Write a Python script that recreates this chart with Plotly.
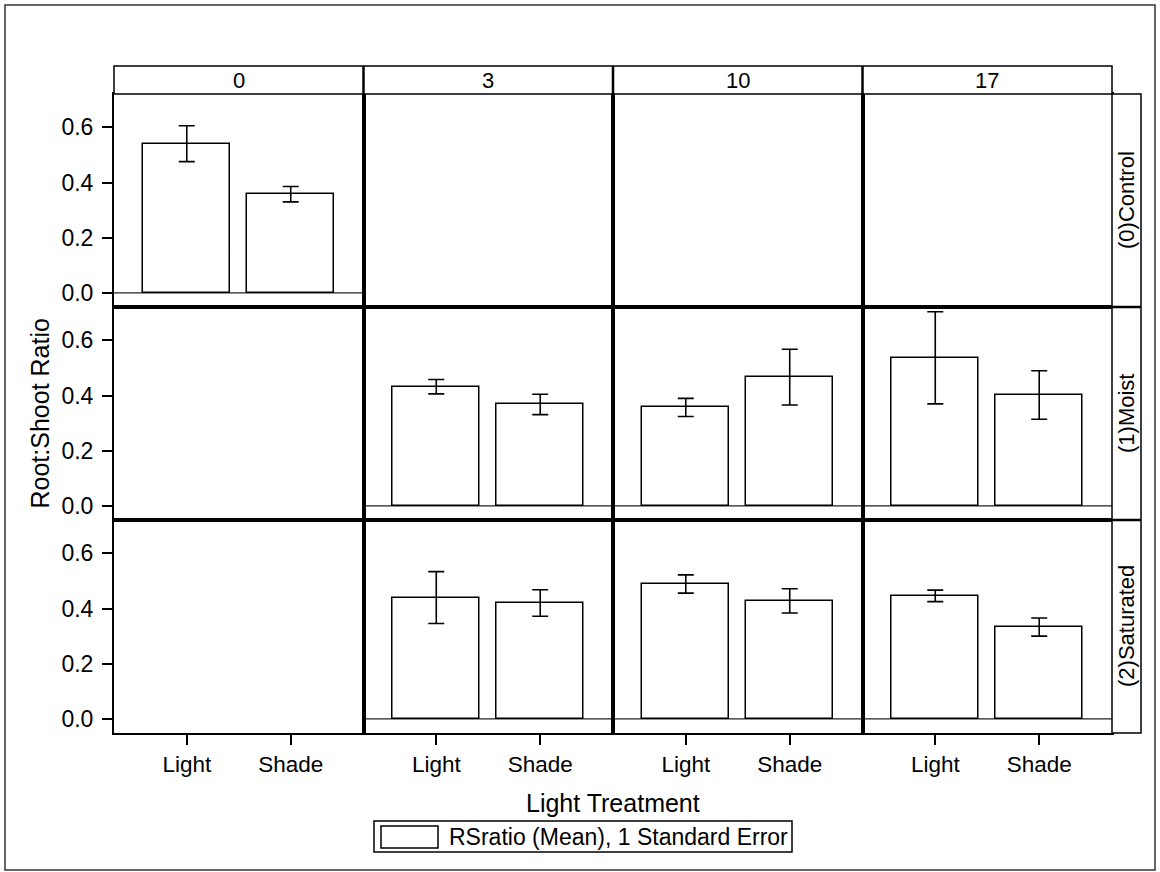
import plotly.graph_objects as go
from plotly.subplots import make_subplots

# Panel columns (days) and rows (moisture treatment)
days = ["0", "3", "10", "17"]
moisture = ["(0)Control", "(1)Moist", "(2)Saturated"]
light = ["Light", "Shade"]

# Mean root:shoot ratio per moisture row, per day column (None = no data)
light_mean = [
    [0.541, None, None, None],
    [None, 0.432, 0.357, 0.537],
    [None, 0.440, 0.489, 0.446],
]
shade_mean = [
    [0.358, None, None, None],
    [None, 0.368, 0.467, 0.402],
    [None, 0.420, 0.428, 0.333],
]
# One standard error
light_se = [
    [0.065, None, None, None],
    [None, 0.026, 0.033, 0.167],
    [None, 0.094, 0.033, 0.021],
]
shade_se = [
    [0.028, None, None, None],
    [None, 0.037, 0.101, 0.088],
    [None, 0.048, 0.044, 0.033],
]

y_ticks = [0.0, 0.2, 0.4, 0.6]

W, H = 1160, 872
ML, MR, MT, MB = 114, 48, 94, 139
PW, PH = W - ML - MR, H - MT - MB
FONT = "Liberation Sans, Arial, sans-serif"


def px_x(p):
    return (p - ML) / PW


def px_y(p):
    return (H - MB - p) / PH


nrows, ncols = len(moisture), len(days)
fig = make_subplots(rows=nrows, cols=ncols, horizontal_spacing=0, vertical_spacing=0)

shapes = []
for r in range(nrows):
    for c in range(ncols):
        idx = r * ncols + c + 1
        has_data = light_mean[r][c] is not None
        # every panel gets its bar trace so its axes are laid out, even when empty
        fig.add_trace(
            go.Bar(
                x=list(range(len(light))),
                y=[light_mean[r][c], shade_mean[r][c]],
                width=0.84,
                marker=dict(color="white", line=dict(color="black", width=1.5)),
                error_y=dict(
                    type="data",
                    array=[light_se[r][c] or 0, shade_se[r][c] or 0],
                    color="black",
                    thickness=1.6,
                    width=8,
                    visible=has_data,
                ),
                showlegend=False,
                hoverinfo="skip",
            ),
            row=r + 1,
            col=c + 1,
        )
        if has_data:
            sfx = "" if idx == 1 else str(idx)
            shapes.append(dict(
                type="line", xref=f"x{sfx} domain", yref=f"y{sfx}",
                x0=0, x1=1, y0=0, y1=0, layer="below",
                line=dict(color="#222", width=1.2),
            ))

for r in range(nrows):
    for c in range(ncols):
        bottom = r == nrows - 1
        left = c == 0
        fig.update_xaxes(
            range=[-0.7, 1.7], tickvals=list(range(len(light))), ticktext=light,
            showticklabels=bottom, ticks="outside" if bottom else "",
            ticklen=10, tickwidth=1.5, tickcolor="black",
            showgrid=False, zeroline=False,
            showline=True, mirror=True, linewidth=2, linecolor="black",
            tickfont=dict(family=FONT, size=22.5, color="black"),
            row=r + 1, col=c + 1,
        )
        fig.update_yaxes(
            range=[-0.051, 0.721], tickvals=y_ticks, tickformat=".1f",
            showticklabels=left, ticks="outside" if left else "",
            ticklen=10, tickwidth=1.5, tickcolor="black",
            showgrid=False, zeroline=False,
            showline=True, mirror=True, linewidth=2, linecolor="black",
            tickfont=dict(family=FONT, size=23, color="black"),
            ticklabelstandoff=4,
            row=r + 1, col=c + 1,
        )

# Column header strip
hdr_top = px_y(66)
shapes.append(dict(type="rect", xref="paper", yref="paper", x0=0, x1=1, y0=1, y1=hdr_top,
                   line=dict(color="black", width=1.5), fillcolor="white"))
for c in range(1, ncols):
    shapes.append(dict(type="line", xref="paper", yref="paper", x0=c / ncols, x1=c / ncols,
                       y0=1, y1=hdr_top, line=dict(color="black", width=2.5)))

# Row label strip
strip_r = px_x(1141)
shapes.append(dict(type="rect", xref="paper", yref="paper", x0=1, x1=strip_r, y0=0, y1=1,
                   line=dict(color="black", width=1.5), fillcolor="white"))
for r in range(1, nrows):
    shapes.append(dict(type="line", xref="paper", yref="paper", x0=1, x1=strip_r,
                       y0=r / nrows, y1=r / nrows, line=dict(color="black", width=2.5)))

# Outer frame
shapes.append(dict(type="rect", xref="paper", yref="paper",
                   x0=px_x(5), x1=px_x(1155), y0=px_y(5), y1=px_y(870),
                   line=dict(color="#333", width=1.5), layer="below"))

# Legend box with swatch
shapes.append(dict(type="rect", xref="paper", yref="paper",
                   x0=px_x(374), x1=px_x(792), y0=px_y(821), y1=px_y(852),
                   line=dict(color="black", width=1.5)))
shapes.append(dict(type="rect", xref="paper", yref="paper",
                   x0=px_x(381), x1=px_x(438), y0=px_y(826), y1=px_y(848),
                   line=dict(color="black", width=1.5), fillcolor="white"))

annotations = []
for c, d in enumerate(days):
    annotations.append(dict(text=d, xref="paper", yref="paper", x=(c + 0.5) / ncols,
                            y=(1 + hdr_top) / 2, xanchor="center", yanchor="middle",
                            showarrow=False, font=dict(family=FONT, size=22, color="black")))
for r, m in enumerate(moisture):
    annotations.append(dict(text=m, xref="paper", yref="paper", x=(1 + strip_r) / 2,
                            y=1 - (r + 0.5) / nrows, xanchor="center", yanchor="middle",
                            textangle=-90, showarrow=False,
                            font=dict(family=FONT, size=22, color="black")))

annotations.append(dict(text="Light Treatment", xref="paper", yref="paper", x=0.5, y=px_y(803),
                        xanchor="center", yanchor="middle", showarrow=False,
                        font=dict(family=FONT, size=25, color="black")))
annotations.append(dict(text="Root:Shoot Ratio", xref="paper", yref="paper", x=px_x(39), y=0.5,
                        xanchor="center", yanchor="middle", textangle=-90, showarrow=False,
                        font=dict(family=FONT, size=25, color="black")))
annotations.append(dict(text="RSratio (Mean), 1 Standard Error", xref="paper", yref="paper",
                        x=px_x(447), y=px_y(837), xanchor="left", yanchor="middle",
                        showarrow=False, font=dict(family=FONT, size=23, color="black")))

fig.update_layout(
    width=W, height=H,
    margin=dict(l=ML, r=MR, t=MT, b=MB),
    paper_bgcolor="white", plot_bgcolor="white",
    shapes=shapes, annotations=annotations,
    showlegend=False, bargap=0,
    font=dict(family=FONT, color="black"),
)

fig.write_html("out.html")
